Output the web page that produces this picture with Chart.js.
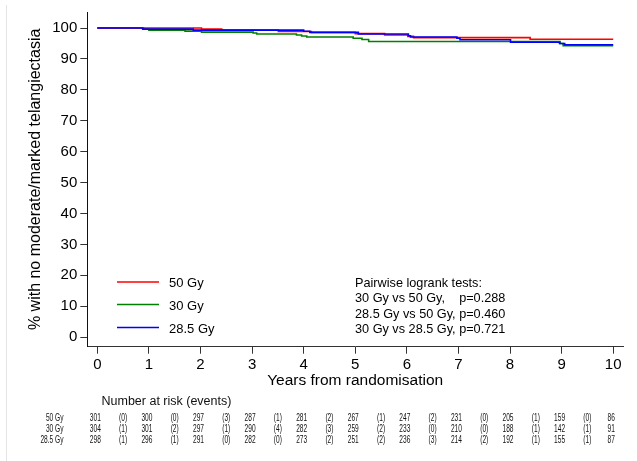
<!DOCTYPE html>
<html><head><meta charset="utf-8">
<script src="https://cdn.jsdelivr.net/npm/chart.js@4.4.1/dist/chart.umd.min.js"></script>
<style>html,body{margin:0;padding:0;background:#fff}#wrap{width:637px;height:461px;position:relative}</style>
</head><body><div id="wrap"><canvas id="c" width="637" height="461"></canvas></div>
<script>
// ---- data ----
const xTicks = [0,1,2,3,4,5,6,7,8,9,10];
const yTicks = [0,10,20,30,40,50,60,70,80,90,100];
const seriesLabels = ['50 Gy','30 Gy','28.5 Gy'];
const seriesColors = ['rgb(255,0,0)','rgb(0,128,0)','rgb(0,0,255)'];

const time50 = [0,2.02,2.41,3.51,4.15,5.0,5.57,6.02,6.13,8.39,10];
const surv50 = [100,99.67,99.34,98.9,98.6,98.2,97.8,97.3,96.9,96.4,96.4];
const time30 = [0,0.9,1.0,1.7,2.02,3.02,3.09,3.86,3.96,4.06,4.96,5.13,5.26,8.97,9.03,10];
const surv30 = [100,99.67,99.34,99.0,98.68,98.4,98.1,97.75,97.45,97.1,96.7,96.3,95.65,95.0,94.3,94.3];
const time285 = [0,0.88,1.86,4.0,4.12,5.06,6.03,6.07,6.97,7.03,8.01,8.96,9.06,10];
const surv285 = [100,99.66,99.33,98.97,98.6,98.1,97.5,97.1,96.7,96.2,95.4,95.0,94.6,94.6];

const risk50 = [301,300,297,287,281,267,247,231,205,159,86];
const events50 = [0,0,3,1,2,1,2,0,1,0];
const risk30 = [304,301,297,290,282,259,233,210,188,142,91];
const events30 = [1,2,1,4,3,2,0,0,1,1];
const risk285 = [298,296,291,282,273,251,236,214,192,155,87];
const events285 = [1,1,0,0,2,2,3,2,1,1];

const pairwiseTitle = 'Pairwise logrank tests:';
const pairwiseNames = ['30 Gy vs 50 Gy,','28.5 Gy vs 50 Gy,','30 Gy vs 28.5 Gy,'];
const pairwiseP = ['p=0.288','p=0.460','p=0.721'];

const xTitle = 'Years from randomisation';
const yTitle = '% with no moderate/marked telangiectasia';
const tableTitle = 'Number at risk (events)';

// ---- build ----
const FONT = "'Liberation Sans', Arial, sans-serif";
const toXY = (t, s) => t.map((v, i) => ({x: v, y: s[i]}));
const survData = [toXY(time50, surv50), toXY(time30, surv30), toXY(time285, surv285)];
const riskRows = [risk50, risk30, risk285];
const eventRows = [events50, events30, events285];
const drawOrder = [1, 2, 0];

const extras = {
  id: 'extras',
  beforeDraw(chart) {
    const ctx = chart.ctx;
    ctx.save();
    ctx.fillStyle = '#fff';
    ctx.fillRect(0, 0, chart.width, chart.height);
    ctx.strokeStyle = '#e4e4e4';
    ctx.lineWidth = 1;
    ctx.beginPath(); ctx.moveTo(6.5, 5); ctx.lineTo(6.5, 461); ctx.stroke();
    ctx.restore();
  },
  afterDraw(chart) {
    const ctx = chart.ctx;
    const xs = chart.scales.x;
    ctx.save();
    // legend
    const legY = [282, 304.5, 327.5];
    seriesLabels.forEach((lab, i) => {
      ctx.strokeStyle = seriesColors[i];
      ctx.lineWidth = 1.5;
      ctx.beginPath(); ctx.moveTo(117, legY[i]); ctx.lineTo(159, legY[i]); ctx.stroke();
      ctx.fillStyle = '#000';
      ctx.font = '13px ' + FONT;
      ctx.textAlign = 'left'; ctx.textBaseline = 'middle';
      ctx.fillText(lab, 169, legY[i] + 1.5);
    });
    // pairwise tests
    ctx.font = '12.7px ' + FONT;
    ctx.textAlign = 'left'; ctx.textBaseline = 'middle';
    ctx.fillStyle = '#000';
    const px0 = 355;
    const pY = [283.7, 298.9, 314.1, 329.3];
    ctx.fillText(pairwiseTitle, px0, pY[0]);
    const pX = px0 + ctx.measureText(pairwiseNames[1] + ' ').width;
    pairwiseNames.forEach((n, i) => {
      ctx.fillText(n, px0, pY[i + 1]);
      const w = px0 + ctx.measureText(n + ' ').width;
      ctx.fillText(pairwiseP[i], Math.max(pX, w), pY[i + 1]);
    });
    // risk table
    ctx.font = '12.5px ' + FONT;
    ctx.fillStyle = '#111';
    ctx.fillText(tableTitle, 101.5, 402);
    const rowY = [418, 429, 440];
    const sx = 0.6;
    const put = (txt, x, y, align) => {
      ctx.save(); ctx.translate(x, y); ctx.scale(sx, 1);
      ctx.textAlign = align; ctx.fillText(txt, 0, 0); ctx.restore();
    };
    ctx.font = '11px ' + FONT;
    ctx.textBaseline = 'middle';
    riskRows.forEach((row, r) => {
      put(seriesLabels[r], 63.5, rowY[r], 'right');
      row.forEach((v, i) => put(String(v), xs.getPixelForValue(xTicks[i]) - 2, rowY[r], 'center'));
      eventRows[r].forEach((v, i) => put('(' + v + ')', xs.getPixelForValue(xTicks[i] + 0.5), rowY[r], 'center'));
    });
    ctx.restore();
  }
};

new Chart(document.getElementById('c'), {
  type: 'line',
  data: {
    datasets: survData.map((d, i) => ({
      label: seriesLabels[i],
      data: d,
      borderColor: seriesColors[i],
      backgroundColor: seriesColors[i],
      borderWidth: 1.6,
      pointRadius: 0,
      stepped: 'before',
      fill: false,
      order: drawOrder[i]
    }))
  },
  options: {
    responsive: false,
    animation: false,
    events: [],
    layout: {padding: {left: 0, right: 14, top: 12, bottom: 71}},
    plugins: {legend: {display: false}, tooltip: {enabled: false}},
    scales: {
      x: {
        type: 'linear', min: -0.194, max: 10.19,
        afterBuildTicks: s => { s.ticks = xTicks.map(v => ({value: v})); },
        afterFit: s => { s.height = 43.3; },
        grid: {display: true, drawOnChartArea: false, drawTicks: true, tickLength: 7, color: '#333', lineWidth: 1},
        border: {display: true, color: '#333', width: 1},
        ticks: {font: {family: FONT, size: 15}, color: '#000', padding: 2.5, maxRotation: 0, autoSkip: false},
        title: {display: true, text: xTitle, color: '#000', font: {family: FONT, size: 15.5}, padding: {top: 0, bottom: 0}}
      },
      y: {
        type: 'linear', min: -3.1, max: 105.2,
        afterBuildTicks: s => { s.ticks = yTicks.map(v => ({value: v})); },
        afterFit: s => { s.width = 87.3; },
        grid: {display: true, drawOnChartArea: false, drawTicks: true, tickLength: 7, color: '#333', lineWidth: 1},
        border: {display: true, color: '#111', width: 1},
        ticks: {font: {family: FONT, size: 15}, color: '#000', padding: 3, autoSkip: false},
        title: {display: true, text: yTitle, color: '#000', font: {family: FONT, size: 16}, padding: {top: 26, bottom: 0}}
      }
    }
  },
  plugins: [extras]
});
</script></body></html>
